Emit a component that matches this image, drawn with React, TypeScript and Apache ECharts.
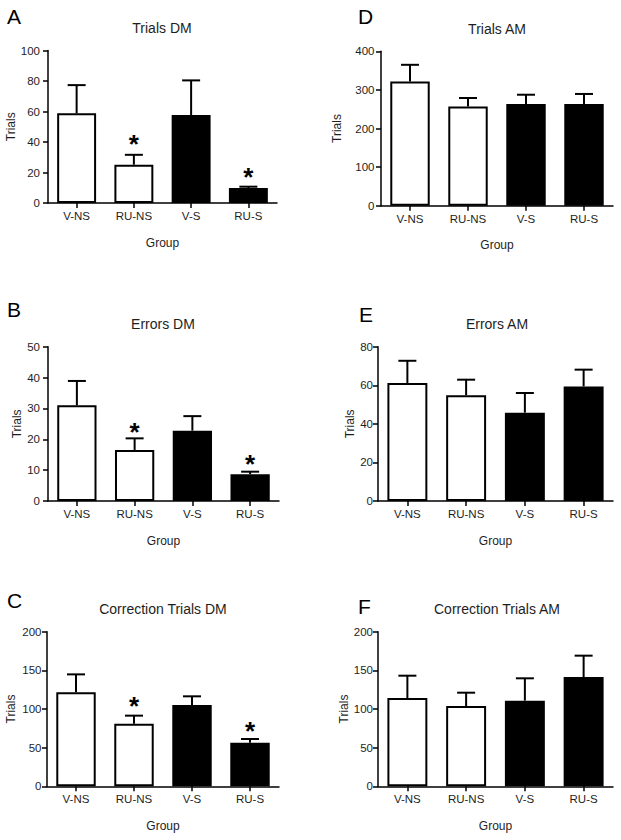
import React, { useEffect, useRef } from "react";
import * as echarts from "echarts";

const groups = ["V-NS", "RU-NS", "V-S", "RU-S"];

// Panel A: Trials DM
const trialsDM = [58.8, 25.1, 57.7, 9.8];
const trialsDMSem = [18.5, 6.5, 22.7, 0.9];
const trialsDMStars = [[1, 42.5], [3, 20.8]];
// Panel B: Errors DM
const errorsDM = [31.0, 16.5, 22.8, 8.7];
const errorsDMSem = [7.9, 3.8, 4.7, 0.8];
const errorsDMStars = [[1, 24.3], [3, 13.8]];
// Panel C: Correction Trials DM
const corrDM = [121.6, 81.0, 105.2, 56.5];
const corrDMSem = [23.2, 10.4, 11.2, 4.7];
const corrDMStars = [[1, 111.5], [3, 79.0]];
// Panel D: Trials AM
const trialsAM = [322, 257, 263.5, 263.5];
const trialsAMSem = [43, 22, 24, 26];
// Panel E: Errors AM
const errorsAM = [61.2, 54.8, 45.8, 59.4];
const errorsAMSem = [11.5, 8.1, 10.2, 8.7];
// Panel F: Correction Trials AM
const corrAM = [114.2, 103.9, 110.8, 141.4];
const corrAMSem = [28.9, 17.2, 28.9, 27.6];

const FONT = "Liberation Sans, Arial, sans-serif";
const TXT = "#1e1e1e";

type Panel = {
  letter: string;
  title: string;
  mean: number[];
  sem: number[];
  stars: number[][];
  max: number;
  interval: number;
  grid: { left: number; right: number; top: number; height: number };
  nameGap: number;
  labelMargin: number;
  letterPos: [number, number];
  titlePos: [number, number];
};

const panels: Panel[] = [
  { letter: "A", title: "Trials DM", mean: trialsDM, sem: trialsDMSem, stars: trialsDMStars, max: 100, interval: 20,
    grid: { left: 48, right: 344, top: 50.5, height: 152.5 }, nameGap: 23, labelMargin: 8, letterPos: [7, 16], titlePos: [162, 28] },
  { letter: "D", title: "Trials AM", mean: trialsAM, sem: trialsAMSem, stars: [], max: 400, interval: 100,
    grid: { left: 381, right: 8, top: 51.3, height: 154.4 }, nameGap: 38, labelMargin: 6.5, letterPos: [358, 16], titlePos: [497, 29] },
  { letter: "B", title: "Errors DM", mean: errorsDM, sem: errorsDMSem, stars: errorsDMStars, max: 50, interval: 10,
    grid: { left: 48, right: 342, top: 346.7, height: 154.3 }, nameGap: 23, labelMargin: 8, letterPos: [7, 309], titlePos: [163, 324] },
  { letter: "E", title: "Errors AM", mean: errorsAM, sem: errorsAMSem, stars: [], max: 80, interval: 20,
    grid: { left: 378, right: 8, top: 346.7, height: 154.3 }, nameGap: 20, labelMargin: 5, letterPos: [359, 314], titlePos: [497, 324] },
  { letter: "C", title: "Correction Trials DM", mean: corrDM, sem: corrDMSem, stars: corrDMStars, max: 200, interval: 50,
    grid: { left: 47, right: 342, top: 631.7, height: 154.6 }, nameGap: 30, labelMargin: 5.5, letterPos: [7, 600], titlePos: [163, 609] },
  { letter: "F", title: "Correction Trials AM", mean: corrAM, sem: corrAMSem, stars: [], max: 200, interval: 50,
    grid: { left: 378, right: 8, top: 631.7, height: 154.6 }, nameGap: 20, labelMargin: 5, letterPos: [358, 606], titlePos: [497, 609] },
];

function buildOption() {
  const grid: any[] = [];
  const xAxis: any[] = [];
  const yAxis: any[] = [];
  const series: any[] = [];
  const graphic: any[] = [];

  panels.forEach((p, i) => {
    grid.push({ ...p.grid, containLabel: false });
    xAxis.push({
      type: "category",
      gridIndex: i,
      data: groups,
      boundaryGap: true,
      name: "Group",
      nameLocation: "middle",
      nameGap: 33.5,
      nameTextStyle: { fontFamily: FONT, fontSize: 12, color: TXT },
      axisLine: { show: true, lineStyle: { color: "#000", width: 1.5 } },
      axisTick: { show: true, alignWithLabel: true, length: 5, lineStyle: { color: "#000", width: 1.5 } },
      axisLabel: { fontFamily: FONT, fontSize: 11.5, color: TXT, margin: 7 },
      splitLine: { show: false },
    });
    yAxis.push({
      type: "value",
      gridIndex: i,
      min: 0,
      max: p.max,
      interval: p.interval,
      name: "Trials",
      nameLocation: "middle",
      nameRotate: 90,
      nameGap: p.nameGap,
      nameTextStyle: { fontFamily: FONT, fontSize: 12, color: TXT },
      axisLine: { show: true, lineStyle: { color: "#000", width: 1.5 } },
      axisTick: { show: true, length: 5, lineStyle: { color: "#000", width: 1.5 } },
      axisLabel: { fontFamily: FONT, fontSize: 11.5, color: TXT, margin: p.labelMargin },
      splitLine: { show: false },
    });
    series.push({
      type: "bar",
      xAxisIndex: i,
      yAxisIndex: i,
      data: p.mean,
      barWidth: "68%",
      z: 3,
      itemStyle: {
        color: (d: any) => (d.dataIndex < 2 ? "#fff" : "#000"),
        borderColor: "#000",
        borderWidth: 2,
      },
    });
    series.push({
      type: "custom",
      xAxisIndex: i,
      yAxisIndex: i,
      z: 2,
      data: p.mean.map((m, k) => [k, m, m + p.sem[k]]),
      renderItem: (_params: any, api: any) => {
        const base = api.coord([api.value(0), api.value(1)]);
        const top = api.coord([api.value(0), api.value(2)]);
        const half = 9;
        const st = { stroke: "#000", lineWidth: 2 };
        return {
          type: "group",
          children: [
            { type: "line", shape: { x1: base[0], y1: base[1], x2: base[0], y2: top[1] }, style: st },
            { type: "line", shape: { x1: base[0] - half, y1: top[1], x2: base[0] + half, y2: top[1] }, style: st },
          ],
        };
      },
    });
    if (p.stars.length) {
      series.push({
        type: "custom",
        xAxisIndex: i,
        yAxisIndex: i,
        z: 4,
        data: p.stars,
        renderItem: (_params: any, api: any) => {
          const pt = api.coord([api.value(0), api.value(1)]);
          return {
            type: "text",
            x: pt[0],
            y: pt[1] + 6,
            style: {
              text: "*",
              textAlign: "center",
              textVerticalAlign: "middle",
              fontFamily: FONT,
              fontSize: 26,
              fontWeight: "bold",
              fill: "#000",
            },
          };
        },
      });
    }
    graphic.push({
      type: "text",
      x: p.letterPos[0],
      y: p.letterPos[1],
      style: { text: p.letter, fontFamily: FONT, fontSize: 21, fill: "#000", textVerticalAlign: "middle" },
    });
    graphic.push({
      type: "text",
      x: p.titlePos[0],
      y: p.titlePos[1],
      style: { text: p.title, fontFamily: FONT, fontSize: 14, fill: TXT, textAlign: "center", textVerticalAlign: "middle" },
    });
  });

  return { animation: false, backgroundColor: "#fff", grid, xAxis, yAxis, series, graphic };
}

export default function App() {
  const ref = useRef<HTMLDivElement>(null);
  useEffect(() => {
    if (!ref.current) return;
    const chart = echarts.init(ref.current, undefined, { renderer: "svg" });
    chart.setOption(buildOption() as any);
    return () => chart.dispose();
  }, []);
  return (
    <div
      ref={ref}
      style={{ position: "absolute", left: 0, top: 0, width: 621, height: 840, background: "#fff" }}
    />
  );
}
